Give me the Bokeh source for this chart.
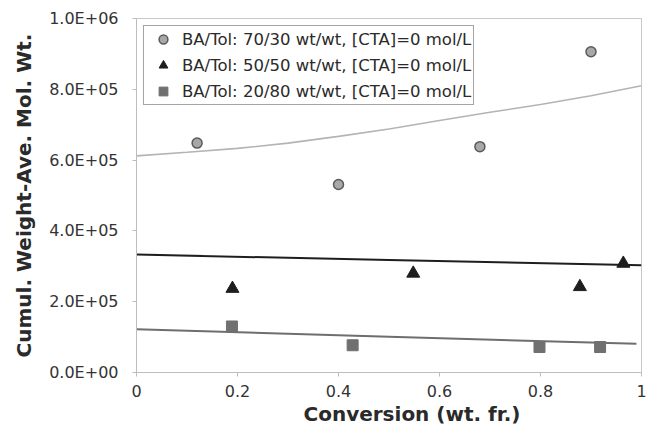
from bokeh.plotting import figure
from bokeh.models import FixedTicker, Legend, LegendItem, Title
from bokeh.embed import file_html
from bokeh.resources import INLINE

# Measured cumulative weight-average molecular weight vs. conversion
conv_70_30 = [0.12, 0.40, 0.68, 0.90]
mw_70_30 = [648000, 531000, 638000, 906000]

conv_50_50 = [0.19, 0.548, 0.878, 0.964]
mw_50_50 = [237000, 280000, 242000, 308000]

conv_20_80 = [0.189, 0.428, 0.798, 0.918]
mw_20_80 = [130000, 77000, 72000, 72000]

# Model predictions
model_x_70_30 = [0.0, 0.1, 0.2, 0.3, 0.4, 0.5, 0.6, 0.7, 0.8, 0.9, 1.0]
model_mw_70_30 = [612000, 622000, 633000, 648000, 667000, 688000, 712000, 735000, 757000, 782000, 810000]

model_x_50_50 = [0.0, 0.5, 1.0]
model_mw_50_50 = [333000, 318000, 303000]

model_x_20_80 = [0.0, 0.5, 0.99]
model_mw_20_80 = [122000, 101000, 81000]

x_ticks = [0, 0.2, 0.4, 0.6, 0.8, 1.0]
x_tick_labels = ["0", "0.2", "0.4", "0.6", "0.8", "1"]
y_ticks = [0, 200000, 400000, 600000, 800000, 1000000]
y_tick_labels = ["0.0E+00", "2.0E+05", "4.0E+05", "6.0E+05", "8.0E+05", "1.0E+06"]

legend_labels = [
    "BA/Tol: 70/30 wt/wt, [CTA]=0 mol/L",
    "BA/Tol: 50/50 wt/wt, [CTA]=0 mol/L",
    "BA/Tol: 20/80 wt/wt, [CTA]=0 mol/L",
]

FONT = "DejaVu Sans"

p = figure(width=648, height=433, x_range=(0, 1), y_range=(0, 1000000),
           output_backend="svg", toolbar_location=None,
           min_border_left=136, min_border_right=7,
           min_border_top=18, min_border_bottom=61)

p.background_fill_color = "white"
p.border_fill_color = "white"
p.outline_line_color = "#c8c8c8"
p.outline_line_width = 1
p.xgrid.visible = False
p.ygrid.visible = False

# model curves
p.line(model_x_70_30, model_mw_70_30, line_color="#b4b4b4", line_width=1.6)
p.line(model_x_50_50, model_mw_50_50, line_color="#1e1e1e", line_width=2)
p.line(model_x_20_80, model_mw_20_80, line_color="#6e6e6e", line_width=2)

# measured points
r1 = p.scatter(conv_70_30, mw_70_30, marker="circle", size=10,
               fill_color="#a8a8a8", line_color="#5a5a5a", line_width=1.5)
r2 = p.scatter(conv_50_50, mw_50_50, marker="triangle", size=13,
               fill_color="#1e1e1e", line_color="#1e1e1e", line_width=1)
r3 = p.scatter(conv_20_80, mw_20_80, marker="square", size=11,
               fill_color="#707070", line_color="#707070", line_width=1)

legend = Legend(items=[
    LegendItem(label=legend_labels[0], renderers=[r1]),
    LegendItem(label=legend_labels[1], renderers=[r2]),
    LegendItem(label=legend_labels[2], renderers=[r3]),
], location="top_left")
legend.margin = 7
legend.padding = 2
legend.spacing = 4
legend.label_height = 21
legend.glyph_width = 34
legend.glyph_height = 22
legend.label_standoff = 2
legend.label_text_font = FONT
legend.label_text_font_size = "16.5px"
legend.label_text_color = "#2a2a2a"
legend.border_line_color = "#4a4a4a"
legend.border_line_width = 1.5
legend.background_fill_color = "white"
legend.background_fill_alpha = 1
p.add_layout(legend)

for ax in (p.xaxis[0], p.yaxis[0]):
    ax.axis_line_color = "#bdbdbd"
    ax.axis_line_width = 1
    ax.major_tick_line_color = "#bdbdbd"
    ax.major_tick_out = 4
    ax.major_tick_in = 0
    ax.minor_tick_line_color = None
    ax.major_label_text_font = FONT
    ax.major_label_text_font_size = "16px"
    ax.major_label_text_color = "#333333"

p.xaxis.ticker = FixedTicker(ticks=x_ticks)
p.xaxis.major_label_overrides = dict(zip(x_ticks, x_tick_labels))
p.xaxis.major_label_standoff = 8

p.yaxis.ticker = FixedTicker(ticks=y_ticks)
p.yaxis.major_label_overrides = dict(zip(y_ticks, y_tick_labels))
p.yaxis.major_label_standoff = 14
p.yaxis.axis_label = "Cumul. Weight-Ave. Mol. Wt."
p.yaxis.axis_label_standoff = 10
p.yaxis.axis_label_text_font = FONT
p.yaxis.axis_label_text_font_style = "bold"
p.yaxis.axis_label_text_font_size = "20px"
p.yaxis.axis_label_text_color = "#2a2a2a"

# x-axis title, set a little right of the frame centre
x_title = Title(text="Conversion (wt. fr.)", align="left", offset=167,
                text_font=FONT, text_font_style="bold", text_font_size="20px",
                text_color="#2a2a2a", standoff=0)
p.add_layout(x_title, "below")

open("out.html", "w").write(file_html(p, INLINE))
